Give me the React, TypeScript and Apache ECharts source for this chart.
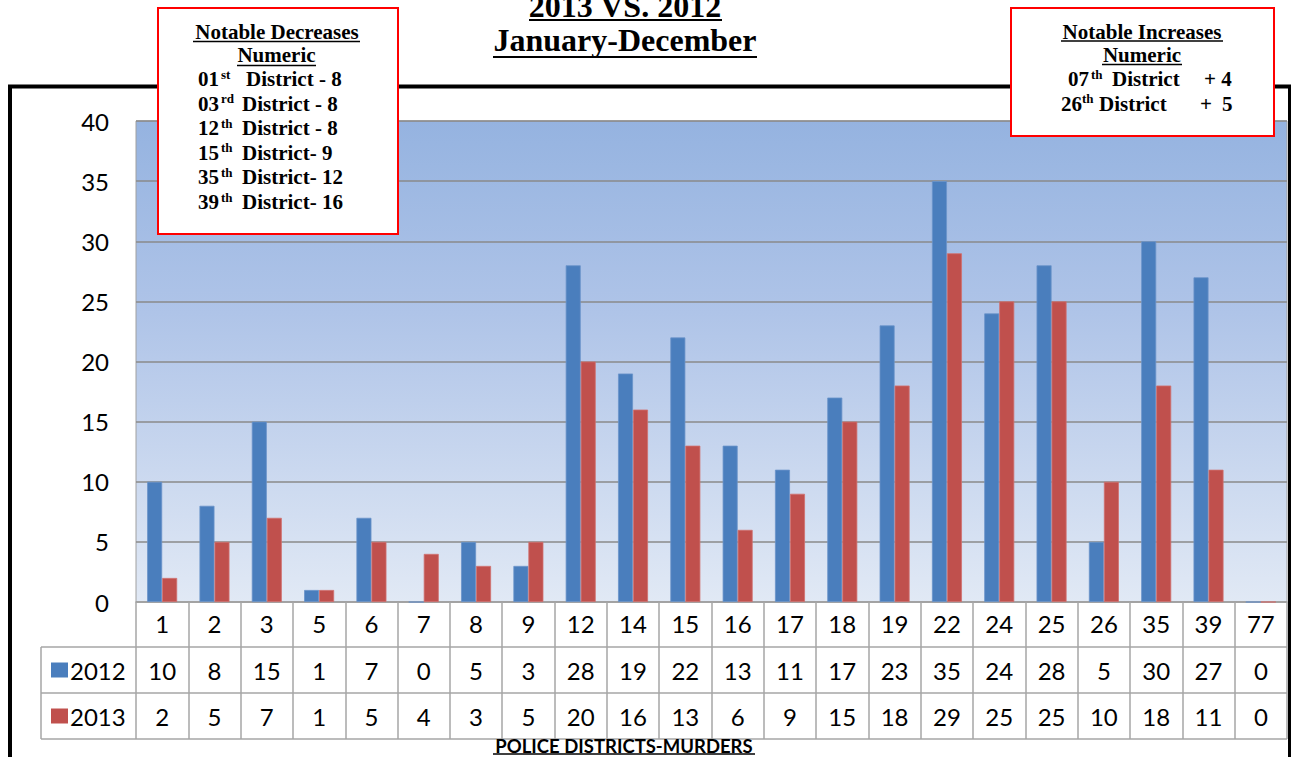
import React, { useEffect, useRef } from "react";
import * as echarts from "echarts";

const districts = ["1","2","3","5","6","7","8","9","12","14","15","16","17","18","19","22","24","25","26","35","39","77"];
const murders2012 = [10,8,15,1,7,0,5,3,28,19,22,13,11,17,23,35,24,28,5,30,27,0];
const murders2013 = [2,5,7,1,5,4,3,5,20,16,13,6,9,15,18,29,25,25,10,18,11,0];
const seriesNames = ["2012", "2013"];
const seriesColors = ["#4a7ebd", "#c0504d"];
const yMin = 0, yMax = 40, yStep = 5;

const titleLines = ["2013 VS. 2012", "January-December"];
const decreasesTitle = ["Notable Decreases", "Numeric"];
const decreases = [
  ["01", "st", "District - 8"],
  ["03", "rd", "District - 8"],
  ["12", "th", "District - 8"],
  ["15", "th", "District- 9"],
  ["35", "th", "District- 12"],
  ["39", "th", "District- 16"],
];
const increasesTitle = ["Notable Increases", "Numeric"];
const increases = [
  ["07", "th", "District", "+ 4"],
  ["26", "th", "District", "+", "5"],
];
const xAxisTitle = "POLICE DISTRICTS-MURDERS";

const SERIF = '"Liberation Serif", "Times New Roman", serif';
const SANS = 'Lato, "Open Sans", sans-serif';

export default function App() {
  const ref = useRef<HTMLDivElement>(null);
  useEffect(() => {
    if (!ref.current) return;
    const chart = echarts.init(ref.current, null, { renderer: "svg" });
    const gridLeft = 136, gridTop = 121, gridRight = 4, gridBottom = 155;
    chart.setOption({
      animation: false,
      backgroundColor: "#ffffff",
      grid: {
        left: gridLeft, top: gridTop, right: gridRight, bottom: gridBottom,
        show: true,
        borderColor: "#a0a0a0",
        borderWidth: 1,
        backgroundColor: {
          type: "linear", x: 0, y: 0, x2: 0, y2: 1,
          colorStops: [
            { offset: 0, color: "#95b3e0" },
            { offset: 0.4, color: "#afc4e8" },
            { offset: 1, color: "#e1e9f5" },
          ],
        },
        outerBoundsMode: "none",
        containLabel: false,
      },
      xAxis: {
        type: "category",
        data: districts,
        axisLine: { show: true, lineStyle: { color: "#a6a6a6", width: 1.5 } },
        axisTick: { show: true, length: 137, interval: 0, lineStyle: { color: "#a6a6a6", width: 1.5 } },
        axisLabel: {
          interval: 0, margin: 21, verticalAlign: "middle",
          fontFamily: SANS, fontSize: 24, color: "#000",
        },
      },
      yAxis: {
        type: "value",
        min: yMin, max: yMax, interval: yStep,
        axisLine: { show: false },
        axisTick: { show: false },
        axisLabel: { margin: 27, fontFamily: SANS, fontSize: 24, color: "#000" },
        splitLine: { lineStyle: { color: "#8a8a8a", width: 1.5 } },
      },
      series: [
        {
          name: seriesNames[0], type: "bar", data: murders2012, barWidth: 15, barGap: "0%",
          itemStyle: { color: seriesColors[0], borderColor: "#6a93c9", borderWidth: 0.8 },
        },
        {
          name: seriesNames[1], type: "bar", data: murders2013, barWidth: 15, barGap: "0%",
          itemStyle: { color: seriesColors[1], borderColor: "#d0706e", borderWidth: 0.8 },
        },
      ],
    });

    const xs = districts.map((_, i) => chart.convertToPixel({ xAxisIndex: 0 }, i) as number);
    const plotRight = 1291 - gridRight;
    const rowYs = [670, 716];
    const rowLines = [647, 693, 739];
    const tableLeft = 41;
    const g: any[] = [];
    const Z = 100;
    const txt = (text: string, x: number, y: number, font: string, align = "left") => ({
      type: "text", z: Z, style: { text, x, y, font, fill: "#000", align, verticalAlign: "middle" },
    });
    const ln = (x1: number, y1: number, x2: number, y2: number, color: string, w: number, z = Z) => ({
      type: "line", z, shape: { x1, y1, x2, y2 }, style: { stroke: color, lineWidth: w },
    });

    // black frame
    g.push(ln(10, 86.5, 10, 757, "#000", 4, 5));
    g.push(ln(8, 86.5, 1291, 86.5, "#000", 4, 5));
    g.push(ln(1289.5, 85, 1289.5, 757, "#000", 3, 5));

    // table
    rowLines.forEach((y) => g.push(ln(tableLeft, y, plotRight, y, "#a6a6a6", 1.5, 6)));
    g.push(ln(tableLeft, rowLines[0], tableLeft, rowLines[2], "#a6a6a6", 1.5, 6));
    const rows = [murders2012, murders2013];
    rows.forEach((vals, r) => {
      g.push({ type: "rect", z: 6, shape: { x: 51, y: rowYs[r] - 7.5, width: 17, height: 15 }, style: { fill: seriesColors[r] } });
      g.push(txt(seriesNames[r], 70, rowYs[r], `24px ${SANS}`));
      vals.forEach((v, i) => g.push(txt(String(v), xs[i], rowYs[r], `24px ${SANS}`, "center")));
    });
    g.push(txt(xAxisTitle, 624, 745.5, `bold 18.5px ${SANS}`, "center"));
    g.push(ln(493, 754, 755, 754, "#000", 1.5));

    // main title
    g.push(txt(titleLines[0], 625, 6, `bold 32px ${SERIF}`, "center"));
    g.push(ln(529, 20, 722, 20, "#000", 2));
    g.push(txt(titleLines[1], 625, 40, `bold 32px ${SERIF}`, "center"));
    g.push(ln(493, 57, 757, 57, "#000", 2));

    // decreases box
    g.push({ type: "rect", z: Z, shape: { x: 158, y: 8, width: 240, height: 226 }, style: { fill: "#fff", stroke: "#ff0000", lineWidth: 2 } });
    g.push(txt(decreasesTitle[0], 277, 32, `bold 21px ${SERIF}`, "center"));
    g.push(ln(193, 41.5, 360, 41.5, "#000", 1.5));
    g.push(txt(decreasesTitle[1], 276.5, 55, `bold 21px ${SERIF}`, "center"));
    g.push(ln(237, 65.5, 316, 65.5, "#000", 1.5));
    decreases.forEach((d, i) => {
      const y = 79 + i * 24.6;
      g.push(txt(d[0], 198, y, `bold 21px ${SERIF}`));
      g.push(txt(d[1], 221, y - 5, `bold 13px ${SERIF}`));
      g.push(txt(d[2], i === 0 ? 246 : 242, y, `bold 21px ${SERIF}`));
    });

    // increases box
    g.push({ type: "rect", z: Z, shape: { x: 1011, y: 8, width: 263, height: 128 }, style: { fill: "#fff", stroke: "#ff0000", lineWidth: 2 } });
    g.push(txt(increasesTitle[0], 1142, 32, `bold 21px ${SERIF}`, "center"));
    g.push(ln(1061, 41, 1223, 41, "#000", 1.5));
    g.push(txt(increasesTitle[1], 1142, 55, `bold 21px ${SERIF}`, "center"));
    g.push(ln(1102, 64.5, 1182, 64.5, "#000", 1.5));
    const incPos = [
      [1068, 1091, 1112, 1204],
      [1061, 1082, 1099, 1200, 1222],
    ];
    increases.forEach((d, i) => {
      const y = 79 + i * 24.6;
      const p = incPos[i];
      g.push(txt(d[0], p[0], y, `bold 21px ${SERIF}`));
      g.push(txt(d[1], p[1], y - 5, `bold 13px ${SERIF}`));
      g.push(txt(d[2], p[2], y, `bold 21px ${SERIF}`));
      for (let k = 3; k < d.length; k++) g.push(txt(d[k], p[k], y, `bold 21px ${SERIF}`));
    });

    chart.setOption({ graphic: { elements: g } });
    return () => chart.dispose();
  }, []);
  return <div ref={ref} style={{ position: "fixed", left: 0, top: 0, width: 1291, height: 757 }} />;
}
